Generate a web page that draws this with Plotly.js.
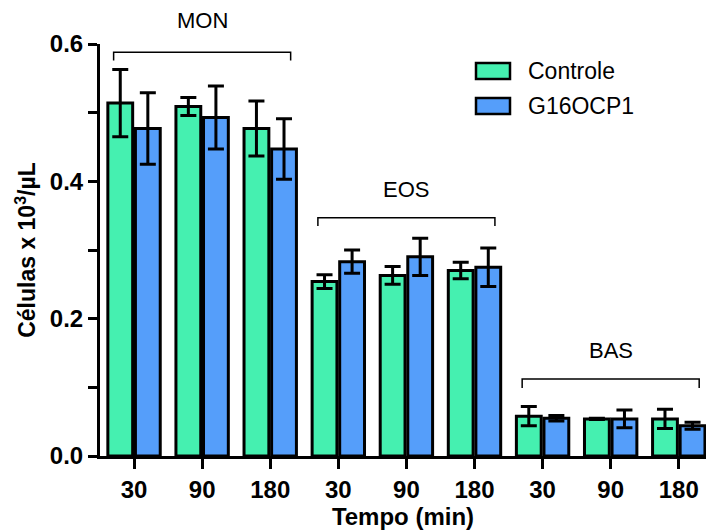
<!DOCTYPE html>
<html>
<head>
<meta charset="utf-8">
<script src="https://cdn.plot.ly/plotly-3.0.1.min.js"></script>
<style>html,body{margin:0;padding:0;background:#fff}#chart{width:706px;height:530px}</style>
</head>
<body>
<div id="chart"></div>
<script>
// ---- data ----
const groups = ['MON', 'EOS', 'BAS'];
const times = ['30', '90', '180'];
const seriesNames = ['Controle', 'G16OCP1'];
const controleMean = [0.514, 0.509, 0.477, 0.254, 0.263, 0.270, 0.058, 0.054, 0.054];
const controleErr  = [0.049, 0.013, 0.040, 0.010, 0.013, 0.012, 0.014, 0.001, 0.014];
const g16Mean      = [0.477, 0.493, 0.447, 0.283, 0.290, 0.275, 0.055, 0.054, 0.044];
const g16Err       = [0.052, 0.046, 0.044, 0.017, 0.027, 0.028, 0.004, 0.013, 0.005];
const yTickVals    = [0.0, 0.1, 0.2, 0.3, 0.4, 0.5, 0.6];
const yTickText    = ['0.0', '', '0.2', '', '0.4', '', '0.6'];

// ---- build ----
const xPos = [], xText = [];
groups.forEach((g, gi) => times.forEach((t, ti) => { xPos.push(gi * times.length + ti); xText.push(t); }));

const font = 'Arial, "Liberation Sans", sans-serif';
const green = '#45F0B0', blue = '#559EFA';

function barTrace(name, y, err, color, og) {
  return {
    type: 'bar', name: name, x: xPos, y: y, offsetgroup: og,
    marker: {color: color, line: {color: '#000', width: 3}},
    error_y: {type: 'data', array: err, visible: true, color: '#000', thickness: 3, width: 8},
    showlegend: false, hoverinfo: 'skip'
  };
}

const data = [
  barTrace(seriesNames[0], controleMean, controleErr, green, 'a'),
  barTrace(seriesNames[1], g16Mean, g16Err, blue, 'b')
];

const shapes = [], annotations = [];

// group brackets (data coords) & labels (paper coords)
const bracketY = [0.588, 0.347, 0.112];
const bracketDrop = [0.012, 0.012, 0.013];
const labelPaperY = [1.058, 0.646, 0.257];
groups.forEach((g, gi) => {
  const x0 = gi * 3 - 0.3, x1 = gi * 3 + 2.3, yb = bracketY[gi], yd = yb - bracketDrop[gi];
  shapes.push({type: 'path', xref: 'x', yref: 'y',
    path: `M ${x0},${yd} L ${x0},${yb} L ${x1},${yb} L ${x1},${yd}`,
    line: {color: '#000', width: 1.5}});
  annotations.push({xref: 'x', yref: 'paper', x: gi * 3 + 1, y: labelPaperY[gi], text: g, showarrow: false,
    font: {family: font, size: 22, color: '#000'}, xanchor: 'center', yanchor: 'middle'});
});

// legend drawn as boxes + text in paper coords
const legColors = [green, blue];
seriesNames.forEach((n, i) => {
  const yc = 1 - (27 + i * 35) / 412;
  shapes.push({type: 'rect', xref: 'paper', yref: 'paper',
    x0: (476 - 100) / 606, x1: (510 - 100) / 606, y0: yc - 8 / 412, y1: yc + 8 / 412,
    fillcolor: legColors[i], line: {color: '#000', width: 2.5}});
  annotations.push({xref: 'paper', yref: 'paper', x: (526 - 100) / 606, y: yc, text: n, showarrow: false,
    xanchor: 'left', yanchor: 'middle', font: {family: font, size: 23, color: '#000'}});
});

const layout = {
  width: 706, height: 530,
  margin: {l: 100, r: 0, t: 44, b: 74},
  paper_bgcolor: '#fff', plot_bgcolor: '#fff',
  barmode: 'group', bargap: 0.19, bargroupgap: 0.1,
  showlegend: false,
  xaxis: {
    range: [-0.5, 8.4], tickmode: 'array', tickvals: xPos, ticktext: xText,
    showgrid: false, zeroline: false, showline: true, linecolor: '#000', linewidth: 3,
    ticks: 'outside', ticklen: 10, tickwidth: 3, tickcolor: '#000',
    tickfont: {family: font, size: 24, color: '#000', weight: 'bold'},
    title: {text: '<b>Tempo (min)</b>', font: {family: font, size: 24, color: '#000'}, standoff: 2}
  },
  yaxis: {
    range: [0, 0.6], tickmode: 'array', tickvals: yTickVals, ticktext: yTickText,
    showgrid: false, zeroline: false, showline: true, linecolor: '#000', linewidth: 3,
    ticks: 'outside', ticklen: 9, tickwidth: 3, tickcolor: '#000',
    tickfont: {family: font, size: 24, color: '#000', weight: 'bold'},
    title: {text: '<b>Células x 10<sup>3</sup>/µL</b>', font: {family: font, size: 23, color: '#000'}, standoff: 8}
  },
  shapes: shapes, annotations: annotations
};

Plotly.newPlot('chart', data, layout, {displayModeBar: false, staticPlot: true});
</script>
</body>
</html>
